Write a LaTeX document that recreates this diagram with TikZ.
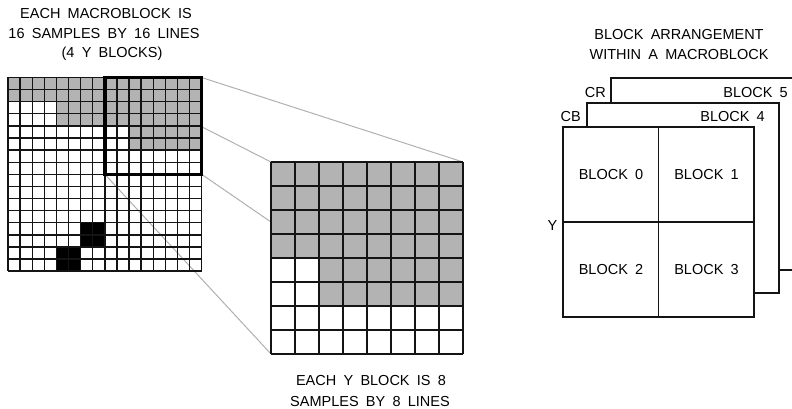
\documentclass[tikz,border=0pt]{standalone}
\usepackage{fontspec}
\setmainfont{Liberation Sans}[WordSpace=1.8]
\definecolor{cellgray}{RGB}{179,179,179}
\definecolor{conncol}{RGB}{176,176,176}
\definecolor{inkcol}{RGB}{20,20,20}
\begin{document}
\begin{tikzpicture}[x=1pt,y=-1pt,
  txt/.style={inner sep=0pt,font=\fontsize{14.5}{16}\selectfont,text=black},
  gl/.style={draw=inkcol,line width=1.25pt},
  glsmall/.style={draw=inkcol,line width=1.4pt},
  conn/.style={draw=conncol,line width=1pt},
  frame/.style={draw=inkcol,line width=1.2pt,fill=white},
  thickbox/.style={draw=black,line width=3.4pt}]
\useasboundingbox (0,0) rectangle (792,409);

% ---- corner coordinates of the framed block in the macroblock
\begin{scope}[shift={(8,77.5)},x=12.1pt,y=-12.1pt]
  \coordinate (btl) at (8,0);
  \coordinate (btr) at (16,0);
  \coordinate (bbl) at (8,8);
  \coordinate (bbr) at (16,8);
\end{scope}

% ---- corners of the enlarged 8x8 block
\begin{scope}[shift={(271,162)},x=24pt,y=-24pt]
  \coordinate (mtl) at (0,0);
  \coordinate (mtr) at (8,0);
  \coordinate (mbl) at (0,8);
  \coordinate (mbr) at (8,8);
\end{scope}

% ---- connectors that pass behind the macroblock
\draw[conn] (btl) -- (mtl);
\draw[conn] (btr) -- (mtr);

% ---- left 16x16 macroblock grid
\begin{scope}[shift={(8,77.5)},x=12.1pt,y=-12.1pt]
  \fill[white] (0,0) rectangle (16,16);
  \fill[cellgray] (0,0) rectangle (16,2);
  \fill[cellgray] (4,2) rectangle (16,4);
  \fill[cellgray] (10,4) rectangle (16,6);
  \fill[black] (6,12) rectangle (8,14);
  \fill[black] (4,14) rectangle (6,16);
\end{scope}

% ---- connectors that cross the macroblock
\draw[conn] (bbl) -- (mbl);
\draw[conn] (bbr) -- (mbr);

% ---- left grid lines
\begin{scope}[shift={(8,77.5)},x=12.1pt,y=-12.1pt]
  \foreach \i in {0,...,16} {
    \draw[glsmall] (\i,0) -- (\i,16);
    \draw[glsmall] (0,\i) -- (16,\i);
  }
\end{scope}
\draw[thickbox] (btl) rectangle (bbr);

% ---- enlarged 8x8 block
\begin{scope}[shift={(271,162)},x=24pt,y=-24pt]
  \fill[white] (0,0) rectangle (8,8);
  \fill[cellgray] (0,0) rectangle (8,4);
  \fill[cellgray] (2,4) rectangle (8,6);
  \foreach \i in {0,...,8} {
    \draw[gl] (\i,0) -- (\i,8);
    \draw[gl] (0,\i) -- (8,\i);
  }
\end{scope}

% ---- block arrangement
\draw[frame] (792,78) -- (611,78) -- (611,270) -- (792,270);
\draw[frame] (587,103) rectangle (779,293);
\draw[frame] (563,127) rectangle (754,317);
\draw[gl] (658.5,127) -- (658.5,317);
\draw[gl] (563,222) -- (754,222);

\node[txt,anchor=center] (b0) at (611,174.5) {BLOCK 0};
\node[txt,anchor=center] (b1) at (706.5,174.5) {BLOCK 1};
\node[txt,anchor=center] (b2) at (611,269.5) {BLOCK 2};
\node[txt,anchor=center] (b3) at (706.5,269.5) {BLOCK 3};
\node[txt,anchor=base east] (cr) at (606,98) {CR};
\node[txt,anchor=base east] (cb) at (581,122) {CB};
\node[txt,anchor=base east] (b5) at (788,98) {BLOCK 5};
\node[txt,anchor=base east] (b4) at (765,122) {BLOCK 4};
\node[txt,anchor=base east] (ylab) at (557.5,230) {Y};

% ---- titles
\node[txt,anchor=base] (t1) at (106,19) {EACH MACROBLOCK IS};
\node[txt,anchor=base] (t2) at (104,38.5) {16 SAMPLES BY 16 LINES};
\node[txt,anchor=base] (t3) at (112,57.5) {(4 Y BLOCKS)};
\node[txt,anchor=base] (r1) at (679,39.3) {BLOCK ARRANGEMENT};
\node[txt,anchor=base] (r2) at (679,60) {WITHIN A MACROBLOCK};
\node[txt,anchor=base] (s1) at (371,385.7) {EACH Y BLOCK IS 8};
\node[txt,anchor=base] (s2) at (370,406.7) {SAMPLES BY 8 LINES};
\end{tikzpicture}
\end{document}
